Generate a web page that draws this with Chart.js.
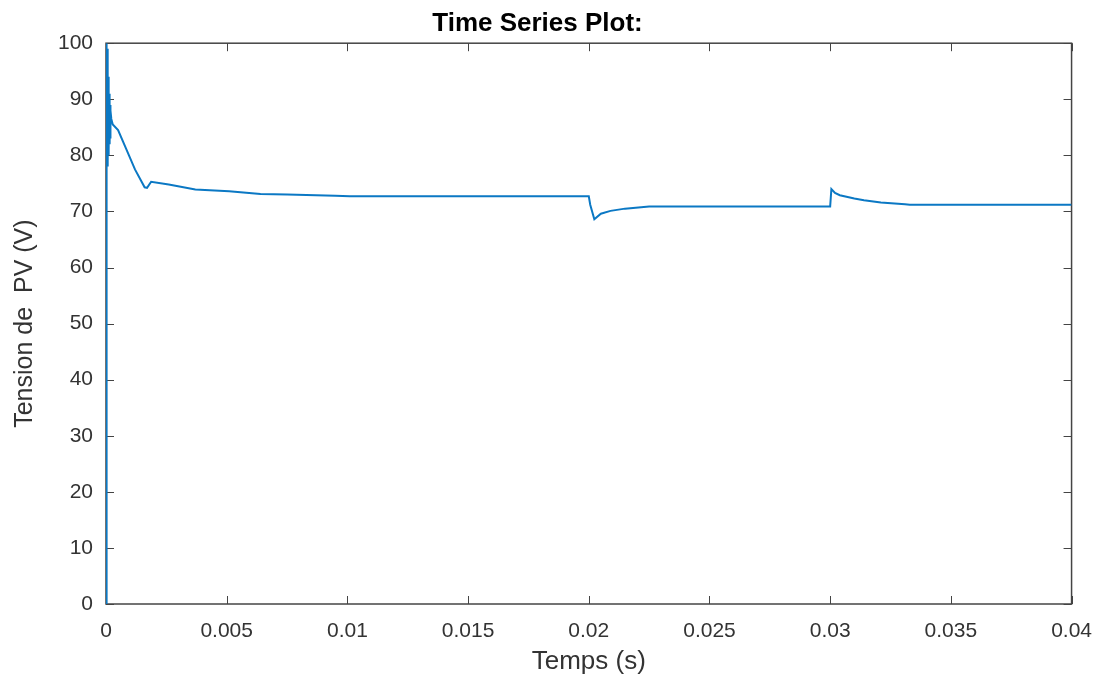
<!DOCTYPE html>
<html>
<head>
<meta charset="utf-8">
<script src="https://cdn.jsdelivr.net/npm/chart.js@4.4.1/dist/chart.umd.min.js"></script>
<style>
  html, body { margin: 0; padding: 0; background: #fff; }
  #wrap { width: 1107px; height: 679px; }
</style>
</head>
<body>
<div id="wrap"><canvas id="myChart" width="1107" height="679"></canvas></div>
<script>
// values
var timeValues = [0, 0.00001, 0.00002, 0.00003, 0.00004, 0.00005, 0.00006, 0.00007, 0.00008, 0.00009,
    0.0001, 0.00011, 0.00012, 0.00013, 0.00014, 0.00015, 0.00016, 0.00017, 0.00018, 0.00019,
    0.00022, 0.00028, 0.0005, 0.0008, 0.0012, 0.0016, 0.0017, 0.00187, 0.0026,
    0.0037, 0.0051, 0.0064, 0.0075, 0.0095, 0.0101, 0.0200, 0.02006, 0.02023, 0.0205,
    0.0209, 0.0215, 0.0225, 0.0300, 0.03005, 0.0302, 0.0304, 0.031, 0.0314, 0.0321,
    0.0331, 0.0333, 0.04];
var voltageValues = [0, 100, 76, 100, 77, 99, 78, 96, 79, 94,
    80, 92, 81, 91, 82, 90, 82, 89, 83, 88,
    86.5, 85.5, 84.5, 81.5, 77.5, 74.3, 74.2, 75.3, 74.8,
    73.9, 73.6, 73.1, 73.0, 72.8, 72.7, 72.7, 71.2, 68.6, 69.6,
    70.1, 70.5, 70.9, 70.9, 74.0, 73.3, 72.9, 72.3, 72.0, 71.6,
    71.3, 71.2, 71.2];
var xTicks = [0, 0.005, 0.01, 0.015, 0.02, 0.025, 0.03, 0.035, 0.04];
var yTicks = [0, 10, 20, 30, 40, 50, 60, 70, 80, 90, 100];

var axisColor = '#333333';

// box around the plot with inward ticks on all four sides (matlab look)
var boxPlugin = {
    id: 'boxPlugin',
    beforeDatasetsDraw: function(chart) {
        var ctx = chart.ctx;
        var a = chart.chartArea;
        var sx = chart.scales.x, sy = chart.scales.y;
        var len = 8;
        ctx.save();
        ctx.strokeStyle = '#444';
        ctx.lineWidth = 1;
        ctx.beginPath();
        xTicks.forEach(function(t) {
            var px = Math.round(sx.getPixelForValue(t)) + 0.5;
            ctx.moveTo(px, a.bottom); ctx.lineTo(px, a.bottom - len);
            ctx.moveTo(px, a.top); ctx.lineTo(px, a.top + len);
        });
        yTicks.forEach(function(v) {
            var py = Math.round(sy.getPixelForValue(v)) + 0.5;
            ctx.moveTo(a.left, py); ctx.lineTo(a.left + len, py);
            ctx.moveTo(a.right, py); ctx.lineTo(a.right - len, py);
        });
        ctx.stroke();
        ctx.lineWidth = 1.5;
        ctx.strokeRect(a.left, a.top, a.right - a.left, a.bottom - a.top);
        ctx.restore();
    }
};

var points = timeValues.map(function(t, i) { return { x: t, y: voltageValues[i] }; });

var ctx = document.getElementById('myChart').getContext('2d');
var myChart = new Chart(ctx, {
    type: 'line',
    data: {
        datasets: [{
            label: 'Tension PV',
            data: points,
            borderColor: '#0b78c4',
            borderWidth: 2,
            pointRadius: 0,
            tension: 0,
            fill: false
        }]
    },
    options: {
        responsive: false,
        animation: false,
        layout: { padding: { top: 0, right: 32, bottom: 0, left: 0 } },
        plugins: {
            legend: { display: false },
            tooltip: { enabled: false },
            title: {
                display: true,
                text: 'Time Series Plot:',
                color: '#000',
                font: { family: 'Liberation Sans', size: 26, weight: 'bold' },
                padding: { top: 8, bottom: 4 }
            }
        },
        scales: {
            x: {
                type: 'linear',
                min: 0,
                max: 0.04,
                afterBuildTicks: function(scale) {
                    scale.ticks = xTicks.map(function(v) { return { value: v }; });
                },
                grid: { display: false, drawTicks: false },
                border: { display: false },
                ticks: {
                    color: axisColor,
                    padding: 15,
                    maxRotation: 0,
                    font: { family: 'Liberation Sans', size: 21 },
                    callback: function(v) { return String(v); }
                },
                title: {
                    display: true,
                    text: 'Temps (s)',
                    color: axisColor,
                    font: { family: 'Liberation Sans', size: 26 },
                    padding: { top: 2, bottom: 2 }
                },
                afterFit: function(scale) { scale.height = 75; }
            },
            y: {
                type: 'linear',
                min: 0,
                max: 100,
                afterBuildTicks: function(scale) {
                    scale.ticks = yTicks.map(function(v) { return { value: v }; });
                },
                grid: { display: false, drawTicks: false },
                border: { display: false },
                ticks: {
                    color: axisColor,
                    padding: 13,
                    font: { family: 'Liberation Sans', size: 21 }
                },
                title: {
                    display: true,
                    text: 'Tension de  PV (V)',
                    color: axisColor,
                    font: { family: 'Liberation Sans', size: 25 },
                    padding: { top: 10, bottom: 0 }
                },
                afterFit: function(scale) { scale.width = 106; }
            }
        }
    },
    plugins: [boxPlugin]
});
</script>
</body>
</html>
